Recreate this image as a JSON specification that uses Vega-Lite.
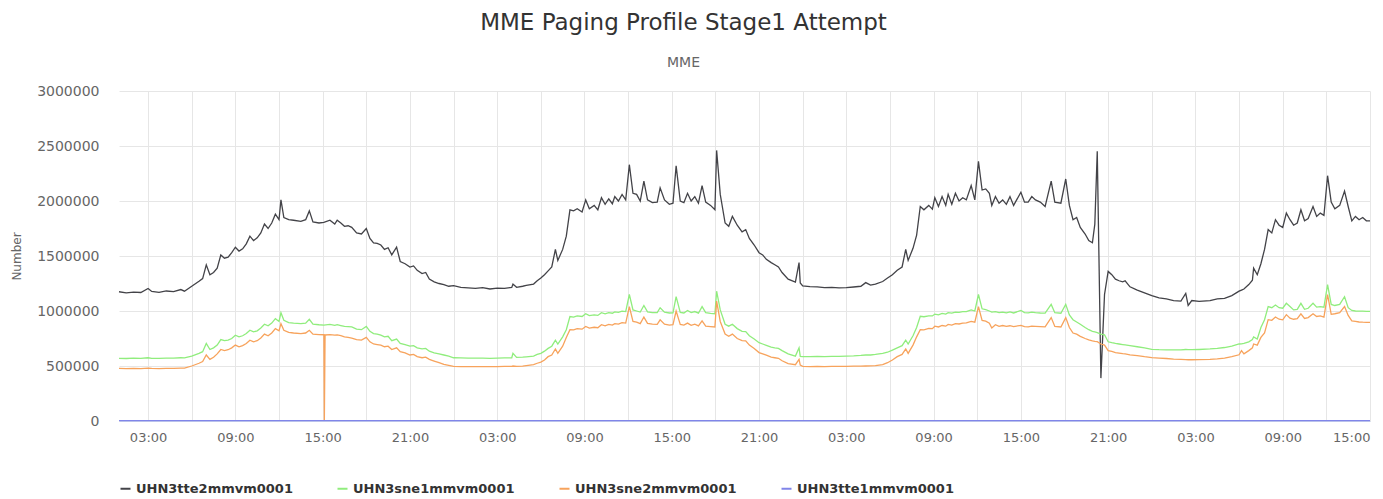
{
  "$schema": "https://vega.github.io/schema/vega-lite/v6.json",
  "width": 1383,
  "height": 499,
  "autosize": {"type": "fit", "contains": "padding"},
  "padding": {"left": 10, "top": 12, "right": 10, "bottom": 3},
  "background": "white",
  "config": {"view": {"stroke": null}, "font": "DejaVu Sans"},
  "title": {
    "text": "MME Paging Profile Stage1 Attempt",
    "subtitle": "MME",
    "anchor": "middle",
    "dx": -61,
    "offset": 14,
    "fontSize": 23,
    "fontWeight": "normal",
    "color": "#333333",
    "subtitleFontSize": 14,
    "subtitleColor": "#666666",
    "subtitlePadding": 21
  },
  "data": {"values": [
    {"t":"2024-01-08T01:00","UHN3tte2mmvm0001":1175000,"UHN3sne1mmvm0001":570000,"UHN3sne2mmvm0001":478000,"UHN3tte1mmvm0001":3000},
    {"t":"2024-01-08T01:30","UHN3tte2mmvm0001":1165000,"UHN3sne1mmvm0001":568000,"UHN3sne2mmvm0001":476000},
    {"t":"2024-01-08T02:00","UHN3tte2mmvm0001":1172000,"UHN3sne1mmvm0001":571000,"UHN3sne2mmvm0001":479000},
    {"t":"2024-01-08T02:30","UHN3tte2mmvm0001":1168000,"UHN3sne1mmvm0001":569000,"UHN3sne2mmvm0001":477000},
    {"t":"2024-01-08T03:00","UHN3tte2mmvm0001":1205000,"UHN3sne1mmvm0001":575000,"UHN3sne2mmvm0001":480000},
    {"t":"2024-01-08T03:15","UHN3tte2mmvm0001":1178000,"UHN3sne1mmvm0001":570000,"UHN3sne2mmvm0001":478000},
    {"t":"2024-01-08T03:45","UHN3tte2mmvm0001":1170000,"UHN3sne1mmvm0001":569000,"UHN3sne2mmvm0001":476000},
    {"t":"2024-01-08T04:15","UHN3tte2mmvm0001":1182000,"UHN3sne1mmvm0001":572000,"UHN3sne2mmvm0001":478000},
    {"t":"2024-01-08T04:45","UHN3tte2mmvm0001":1176000,"UHN3sne1mmvm0001":571000,"UHN3sne2mmvm0001":479000},
    {"t":"2024-01-08T05:15","UHN3tte2mmvm0001":1195000,"UHN3sne1mmvm0001":575000,"UHN3sne2mmvm0001":481000},
    {"t":"2024-01-08T05:30","UHN3tte2mmvm0001":1180000,"UHN3sne1mmvm0001":574000,"UHN3sne2mmvm0001":480000},
    {"t":"2024-01-08T06:00","UHN3tte2mmvm0001":1225000,"UHN3sne1mmvm0001":590000,"UHN3sne2mmvm0001":500000,"UHN3tte1mmvm0001":3000},
    {"t":"2024-01-08T06:30","UHN3tte2mmvm0001":1270000,"UHN3sne1mmvm0001":615000,"UHN3sne2mmvm0001":525000},
    {"t":"2024-01-08T06:45","UHN3tte2mmvm0001":1295000,"UHN3sne1mmvm0001":630000,"UHN3sne2mmvm0001":540000},
    {"t":"2024-01-08T07:00","UHN3tte2mmvm0001":1420000,"UHN3sne1mmvm0001":705000,"UHN3sne2mmvm0001":600000},
    {"t":"2024-01-08T07:15","UHN3tte2mmvm0001":1330000,"UHN3sne1mmvm0001":650000,"UHN3sne2mmvm0001":560000},
    {"t":"2024-01-08T07:30","UHN3tte2mmvm0001":1350000,"UHN3sne1mmvm0001":665000,"UHN3sne2mmvm0001":580000},
    {"t":"2024-01-08T07:45","UHN3tte2mmvm0001":1390000,"UHN3sne1mmvm0001":690000,"UHN3sne2mmvm0001":610000},
    {"t":"2024-01-08T08:00","UHN3tte2mmvm0001":1510000,"UHN3sne1mmvm0001":740000,"UHN3sne2mmvm0001":650000},
    {"t":"2024-01-08T08:15","UHN3tte2mmvm0001":1480000,"UHN3sne1mmvm0001":730000,"UHN3sne2mmvm0001":640000},
    {"t":"2024-01-08T08:30","UHN3tte2mmvm0001":1490000,"UHN3sne1mmvm0001":735000,"UHN3sne2mmvm0001":648000},
    {"t":"2024-01-08T08:45","UHN3tte2mmvm0001":1530000,"UHN3sne1mmvm0001":750000,"UHN3sne2mmvm0001":665000},
    {"t":"2024-01-08T09:00","UHN3tte2mmvm0001":1580000,"UHN3sne1mmvm0001":780000,"UHN3sne2mmvm0001":690000},
    {"t":"2024-01-08T09:15","UHN3tte2mmvm0001":1545000,"UHN3sne1mmvm0001":765000,"UHN3sne2mmvm0001":675000},
    {"t":"2024-01-08T09:30","UHN3tte2mmvm0001":1565000,"UHN3sne1mmvm0001":775000,"UHN3sne2mmvm0001":685000},
    {"t":"2024-01-08T09:45","UHN3tte2mmvm0001":1610000,"UHN3sne1mmvm0001":795000,"UHN3sne2mmvm0001":705000},
    {"t":"2024-01-08T10:00","UHN3tte2mmvm0001":1680000,"UHN3sne1mmvm0001":825000,"UHN3sne2mmvm0001":735000},
    {"t":"2024-01-08T10:15","UHN3tte2mmvm0001":1640000,"UHN3sne1mmvm0001":810000,"UHN3sne2mmvm0001":720000},
    {"t":"2024-01-08T10:30","UHN3tte2mmvm0001":1665000,"UHN3sne1mmvm0001":820000,"UHN3sne2mmvm0001":730000},
    {"t":"2024-01-08T10:45","UHN3tte2mmvm0001":1710000,"UHN3sne1mmvm0001":845000,"UHN3sne2mmvm0001":755000},
    {"t":"2024-01-08T11:00","UHN3tte2mmvm0001":1790000,"UHN3sne1mmvm0001":880000,"UHN3sne2mmvm0001":790000},
    {"t":"2024-01-08T11:15","UHN3tte2mmvm0001":1750000,"UHN3sne1mmvm0001":865000,"UHN3sne2mmvm0001":775000},
    {"t":"2024-01-08T11:30","UHN3tte2mmvm0001":1800000,"UHN3sne1mmvm0001":890000,"UHN3sne2mmvm0001":800000},
    {"t":"2024-01-08T11:45","UHN3tte2mmvm0001":1880000,"UHN3sne1mmvm0001":930000,"UHN3sne2mmvm0001":840000},
    {"t":"2024-01-08T12:00","UHN3tte2mmvm0001":1830000,"UHN3sne1mmvm0001":905000,"UHN3sne2mmvm0001":820000},
    {"t":"2024-01-08T12:08","UHN3tte2mmvm0001":2010000,"UHN3sne1mmvm0001":985000,"UHN3sne2mmvm0001":885000},
    {"t":"2024-01-08T12:20","UHN3tte2mmvm0001":1850000,"UHN3sne1mmvm0001":915000,"UHN3sne2mmvm0001":825000},
    {"t":"2024-01-08T12:40","UHN3tte2mmvm0001":1830000,"UHN3sne1mmvm0001":895000,"UHN3sne2mmvm0001":805000},
    {"t":"2024-01-08T13:00","UHN3tte2mmvm0001":1825000,"UHN3sne1mmvm0001":890000,"UHN3sne2mmvm0001":800000},
    {"t":"2024-01-08T13:30","UHN3tte2mmvm0001":1815000,"UHN3sne1mmvm0001":885000,"UHN3sne2mmvm0001":795000},
    {"t":"2024-01-08T13:50","UHN3tte2mmvm0001":1830000,"UHN3sne1mmvm0001":890000,"UHN3sne2mmvm0001":800000},
    {"t":"2024-01-08T14:05","UHN3tte2mmvm0001":1910000,"UHN3sne1mmvm0001":925000,"UHN3sne2mmvm0001":825000},
    {"t":"2024-01-08T14:20","UHN3tte2mmvm0001":1810000,"UHN3sne1mmvm0001":880000,"UHN3sne2mmvm0001":790000},
    {"t":"2024-01-08T14:45","UHN3tte2mmvm0001":1800000,"UHN3sne1mmvm0001":875000,"UHN3sne2mmvm0001":785000},
    {"t":"2024-01-08T15:05","UHN3tte2mmvm0001":1805000,"UHN3sne1mmvm0001":872000,"UHN3sne2mmvm0001":784000},
    {"t":"2024-01-08T15:07","UHN3sne2mmvm0001":0},
    {"t":"2024-01-08T15:10","UHN3sne2mmvm0001":782000},
    {"t":"2024-01-08T15:30","UHN3tte2mmvm0001":1825000,"UHN3sne1mmvm0001":878000,"UHN3sne2mmvm0001":785000},
    {"t":"2024-01-08T15:50","UHN3tte2mmvm0001":1790000,"UHN3sne1mmvm0001":870000,"UHN3sne2mmvm0001":780000},
    {"t":"2024-01-08T16:00","UHN3tte2mmvm0001":1825000,"UHN3sne1mmvm0001":876000,"UHN3sne2mmvm0001":782000},
    {"t":"2024-01-08T16:15","UHN3tte2mmvm0001":1800000,"UHN3sne1mmvm0001":868000,"UHN3sne2mmvm0001":776000},
    {"t":"2024-01-08T16:30","UHN3tte2mmvm0001":1770000,"UHN3sne1mmvm0001":860000,"UHN3sne2mmvm0001":765000},
    {"t":"2024-01-08T16:45","UHN3tte2mmvm0001":1775000,"UHN3sne1mmvm0001":858000,"UHN3sne2mmvm0001":760000},
    {"t":"2024-01-08T17:00","UHN3tte2mmvm0001":1760000,"UHN3sne1mmvm0001":855000,"UHN3sne2mmvm0001":754000},
    {"t":"2024-01-08T17:20","UHN3tte2mmvm0001":1710000,"UHN3sne1mmvm0001":835000,"UHN3sne2mmvm0001":740000},
    {"t":"2024-01-08T17:40","UHN3tte2mmvm0001":1700000,"UHN3sne1mmvm0001":830000,"UHN3sne2mmvm0001":735000},
    {"t":"2024-01-08T18:00","UHN3tte2mmvm0001":1750000,"UHN3sne1mmvm0001":860000,"UHN3sne2mmvm0001":760000},
    {"t":"2024-01-08T18:15","UHN3tte2mmvm0001":1660000,"UHN3sne1mmvm0001":815000,"UHN3sne2mmvm0001":720000},
    {"t":"2024-01-08T18:30","UHN3tte2mmvm0001":1620000,"UHN3sne1mmvm0001":795000,"UHN3sne2mmvm0001":700000},
    {"t":"2024-01-08T18:45","UHN3tte2mmvm0001":1615000,"UHN3sne1mmvm0001":790000,"UHN3sne2mmvm0001":695000},
    {"t":"2024-01-08T19:00","UHN3tte2mmvm0001":1600000,"UHN3sne1mmvm0001":780000,"UHN3sne2mmvm0001":690000},
    {"t":"2024-01-08T19:15","UHN3tte2mmvm0001":1560000,"UHN3sne1mmvm0001":765000,"UHN3sne2mmvm0001":675000},
    {"t":"2024-01-08T19:30","UHN3tte2mmvm0001":1575000,"UHN3sne1mmvm0001":770000,"UHN3sne2mmvm0001":680000},
    {"t":"2024-01-08T19:45","UHN3tte2mmvm0001":1510000,"UHN3sne1mmvm0001":730000,"UHN3sne2mmvm0001":650000},
    {"t":"2024-01-08T20:05","UHN3tte2mmvm0001":1580000,"UHN3sne1mmvm0001":745000,"UHN3sne2mmvm0001":665000},
    {"t":"2024-01-08T20:20","UHN3tte2mmvm0001":1450000,"UHN3sne1mmvm0001":705000,"UHN3sne2mmvm0001":630000},
    {"t":"2024-01-08T20:40","UHN3tte2mmvm0001":1430000,"UHN3sne1mmvm0001":695000,"UHN3sne2mmvm0001":620000},
    {"t":"2024-01-08T21:00","UHN3tte2mmvm0001":1400000,"UHN3sne1mmvm0001":680000,"UHN3sne2mmvm0001":600000},
    {"t":"2024-01-08T21:15","UHN3tte2mmvm0001":1410000,"UHN3sne1mmvm0001":685000,"UHN3sne2mmvm0001":605000},
    {"t":"2024-01-08T21:30","UHN3tte2mmvm0001":1370000,"UHN3sne1mmvm0001":665000,"UHN3sne2mmvm0001":585000},
    {"t":"2024-01-08T21:50","UHN3tte2mmvm0001":1340000,"UHN3sne1mmvm0001":655000,"UHN3sne2mmvm0001":575000},
    {"t":"2024-01-08T22:05","UHN3tte2mmvm0001":1350000,"UHN3sne1mmvm0001":660000,"UHN3sne2mmvm0001":580000},
    {"t":"2024-01-08T22:20","UHN3tte2mmvm0001":1290000,"UHN3sne1mmvm0001":635000,"UHN3sne2mmvm0001":560000},
    {"t":"2024-01-08T22:40","UHN3tte2mmvm0001":1265000,"UHN3sne1mmvm0001":620000,"UHN3sne2mmvm0001":545000},
    {"t":"2024-01-08T23:00","UHN3tte2mmvm0001":1250000,"UHN3sne1mmvm0001":610000,"UHN3sne2mmvm0001":530000},
    {"t":"2024-01-08T23:20","UHN3tte2mmvm0001":1240000,"UHN3sne1mmvm0001":600000,"UHN3sne2mmvm0001":515000},
    {"t":"2024-01-08T23:40","UHN3tte2mmvm0001":1225000,"UHN3sne1mmvm0001":590000,"UHN3sne2mmvm0001":505000},
    {"t":"2024-01-09T00:00","UHN3tte2mmvm0001":1230000,"UHN3sne1mmvm0001":575000,"UHN3sne2mmvm0001":496000,"UHN3tte1mmvm0001":3000},
    {"t":"2024-01-09T00:30","UHN3tte2mmvm0001":1215000,"UHN3sne1mmvm0001":573000,"UHN3sne2mmvm0001":495000},
    {"t":"2024-01-09T01:00","UHN3tte2mmvm0001":1210000,"UHN3sne1mmvm0001":572000,"UHN3sne2mmvm0001":494000},
    {"t":"2024-01-09T01:30","UHN3tte2mmvm0001":1205000,"UHN3sne1mmvm0001":571000,"UHN3sne2mmvm0001":494000},
    {"t":"2024-01-09T02:00","UHN3tte2mmvm0001":1212000,"UHN3sne1mmvm0001":572000,"UHN3sne2mmvm0001":495000},
    {"t":"2024-01-09T02:30","UHN3tte2mmvm0001":1200000,"UHN3sne1mmvm0001":570000,"UHN3sne2mmvm0001":494000},
    {"t":"2024-01-09T03:00","UHN3tte2mmvm0001":1208000,"UHN3sne1mmvm0001":572000,"UHN3sne2mmvm0001":495000},
    {"t":"2024-01-09T03:30","UHN3tte2mmvm0001":1205000,"UHN3sne1mmvm0001":573000,"UHN3sne2mmvm0001":496000},
    {"t":"2024-01-09T04:00","UHN3tte2mmvm0001":1215000,"UHN3sne1mmvm0001":575000,"UHN3sne2mmvm0001":497000},
    {"t":"2024-01-09T04:05","UHN3tte2mmvm0001":1245000,"UHN3sne1mmvm0001":615000,"UHN3sne2mmvm0001":500000},
    {"t":"2024-01-09T04:20","UHN3tte2mmvm0001":1215000,"UHN3sne1mmvm0001":578000,"UHN3sne2mmvm0001":497000},
    {"t":"2024-01-09T04:45","UHN3tte2mmvm0001":1225000,"UHN3sne1mmvm0001":580000,"UHN3sne2mmvm0001":498000},
    {"t":"2024-01-09T05:00","UHN3tte2mmvm0001":1232000,"UHN3sne1mmvm0001":583000,"UHN3sne2mmvm0001":503000},
    {"t":"2024-01-09T05:30","UHN3tte2mmvm0001":1245000,"UHN3sne1mmvm0001":590000,"UHN3sne2mmvm0001":512000},
    {"t":"2024-01-09T05:45","UHN3tte2mmvm0001":1275000,"UHN3sne1mmvm0001":605000,"UHN3sne2mmvm0001":525000},
    {"t":"2024-01-09T06:00","UHN3tte2mmvm0001":1300000,"UHN3sne1mmvm0001":615000,"UHN3sne2mmvm0001":535000},
    {"t":"2024-01-09T06:15","UHN3tte2mmvm0001":1330000,"UHN3sne1mmvm0001":635000,"UHN3sne2mmvm0001":555000},
    {"t":"2024-01-09T06:30","UHN3tte2mmvm0001":1365000,"UHN3sne1mmvm0001":660000,"UHN3sne2mmvm0001":585000},
    {"t":"2024-01-09T06:45","UHN3tte2mmvm0001":1400000,"UHN3sne1mmvm0001":680000,"UHN3sne2mmvm0001":600000},
    {"t":"2024-01-09T07:00","UHN3tte2mmvm0001":1560000,"UHN3sne1mmvm0001":735000,"UHN3sne2mmvm0001":655000},
    {"t":"2024-01-09T07:10","UHN3tte2mmvm0001":1460000,"UHN3sne1mmvm0001":700000,"UHN3sne2mmvm0001":615000},
    {"t":"2024-01-09T07:30","UHN3tte2mmvm0001":1560000,"UHN3sne1mmvm0001":765000,"UHN3sne2mmvm0001":680000},
    {"t":"2024-01-09T07:45","UHN3tte2mmvm0001":1680000,"UHN3sne1mmvm0001":830000,"UHN3sne2mmvm0001":760000},
    {"t":"2024-01-09T08:00","UHN3tte2mmvm0001":1920000,"UHN3sne1mmvm0001":950000,"UHN3sne2mmvm0001":830000},
    {"t":"2024-01-09T08:15","UHN3tte2mmvm0001":1910000,"UHN3sne1mmvm0001":945000,"UHN3sne2mmvm0001":828000},
    {"t":"2024-01-09T08:30","UHN3tte2mmvm0001":1930000,"UHN3sne1mmvm0001":955000,"UHN3sne2mmvm0001":840000},
    {"t":"2024-01-09T08:50","UHN3tte2mmvm0001":1900000,"UHN3sne1mmvm0001":950000,"UHN3sne2mmvm0001":835000},
    {"t":"2024-01-09T09:05","UHN3tte2mmvm0001":2010000,"UHN3sne1mmvm0001":975000,"UHN3sne2mmvm0001":860000},
    {"t":"2024-01-09T09:20","UHN3tte2mmvm0001":1930000,"UHN3sne1mmvm0001":958000,"UHN3sne2mmvm0001":845000},
    {"t":"2024-01-09T09:40","UHN3tte2mmvm0001":1960000,"UHN3sne1mmvm0001":965000,"UHN3sne2mmvm0001":852000},
    {"t":"2024-01-09T09:55","UHN3tte2mmvm0001":1920000,"UHN3sne1mmvm0001":960000,"UHN3sne2mmvm0001":848000},
    {"t":"2024-01-09T10:10","UHN3tte2mmvm0001":2030000,"UHN3sne1mmvm0001":985000,"UHN3sne2mmvm0001":875000},
    {"t":"2024-01-09T10:25","UHN3tte2mmvm0001":1970000,"UHN3sne1mmvm0001":975000,"UHN3sne2mmvm0001":865000},
    {"t":"2024-01-09T10:40","UHN3tte2mmvm0001":2020000,"UHN3sne1mmvm0001":985000,"UHN3sne2mmvm0001":878000},
    {"t":"2024-01-09T10:55","UHN3tte2mmvm0001":1975000,"UHN3sne1mmvm0001":980000,"UHN3sne2mmvm0001":872000},
    {"t":"2024-01-09T11:05","UHN3tte2mmvm0001":2040000,"UHN3sne1mmvm0001":992000,"UHN3sne2mmvm0001":885000},
    {"t":"2024-01-09T11:20","UHN3tte2mmvm0001":2000000,"UHN3sne1mmvm0001":988000,"UHN3sne2mmvm0001":880000},
    {"t":"2024-01-09T11:35","UHN3tte2mmvm0001":2060000,"UHN3sne1mmvm0001":998000,"UHN3sne2mmvm0001":895000},
    {"t":"2024-01-09T11:50","UHN3tte2mmvm0001":2010000,"UHN3sne1mmvm0001":995000,"UHN3sne2mmvm0001":890000},
    {"t":"2024-01-09T12:05","UHN3tte2mmvm0001":2330000,"UHN3sne1mmvm0001":1150000,"UHN3sne2mmvm0001":1040000},
    {"t":"2024-01-09T12:20","UHN3tte2mmvm0001":2070000,"UHN3sne1mmvm0001":1010000,"UHN3sne2mmvm0001":905000},
    {"t":"2024-01-09T12:35","UHN3tte2mmvm0001":2060000,"UHN3sne1mmvm0001":1000000,"UHN3sne2mmvm0001":898000},
    {"t":"2024-01-09T12:50","UHN3tte2mmvm0001":2000000,"UHN3sne1mmvm0001":990000,"UHN3sne2mmvm0001":885000},
    {"t":"2024-01-09T13:05","UHN3tte2mmvm0001":2180000,"UHN3sne1mmvm0001":1050000,"UHN3sne2mmvm0001":945000},
    {"t":"2024-01-09T13:20","UHN3tte2mmvm0001":2010000,"UHN3sne1mmvm0001":992000,"UHN3sne2mmvm0001":888000},
    {"t":"2024-01-09T13:40","UHN3tte2mmvm0001":1985000,"UHN3sne1mmvm0001":985000,"UHN3sne2mmvm0001":880000},
    {"t":"2024-01-09T14:00","UHN3tte2mmvm0001":1990000,"UHN3sne1mmvm0001":985000,"UHN3sne2mmvm0001":878000},
    {"t":"2024-01-09T14:12","UHN3tte2mmvm0001":2120000,"UHN3sne1mmvm0001":1030000,"UHN3sne2mmvm0001":920000},
    {"t":"2024-01-09T14:30","UHN3tte2mmvm0001":2010000,"UHN3sne1mmvm0001":990000,"UHN3sne2mmvm0001":880000},
    {"t":"2024-01-09T14:50","UHN3tte2mmvm0001":1970000,"UHN3sne1mmvm0001":982000,"UHN3sne2mmvm0001":872000},
    {"t":"2024-01-09T15:05","UHN3tte2mmvm0001":1980000,"UHN3sne1mmvm0001":983000,"UHN3sne2mmvm0001":875000},
    {"t":"2024-01-09T15:18","UHN3tte2mmvm0001":2320000,"UHN3sne1mmvm0001":1130000,"UHN3sne2mmvm0001":1000000},
    {"t":"2024-01-09T15:35","UHN3tte2mmvm0001":2000000,"UHN3sne1mmvm0001":988000,"UHN3sne2mmvm0001":878000},
    {"t":"2024-01-09T15:50","UHN3tte2mmvm0001":1985000,"UHN3sne1mmvm0001":982000,"UHN3sne2mmvm0001":872000},
    {"t":"2024-01-09T16:05","UHN3tte2mmvm0001":2070000,"UHN3sne1mmvm0001":1005000,"UHN3sne2mmvm0001":890000},
    {"t":"2024-01-09T16:20","UHN3tte2mmvm0001":2000000,"UHN3sne1mmvm0001":985000,"UHN3sne2mmvm0001":870000},
    {"t":"2024-01-09T16:35","UHN3tte2mmvm0001":2040000,"UHN3sne1mmvm0001":995000,"UHN3sne2mmvm0001":880000},
    {"t":"2024-01-09T16:50","UHN3tte2mmvm0001":1980000,"UHN3sne1mmvm0001":980000,"UHN3sne2mmvm0001":865000},
    {"t":"2024-01-09T17:05","UHN3tte2mmvm0001":2140000,"UHN3sne1mmvm0001":1040000,"UHN3sne2mmvm0001":910000},
    {"t":"2024-01-09T17:20","UHN3tte2mmvm0001":1990000,"UHN3sne1mmvm0001":985000,"UHN3sne2mmvm0001":862000},
    {"t":"2024-01-09T17:40","UHN3tte2mmvm0001":1960000,"UHN3sne1mmvm0001":978000,"UHN3sne2mmvm0001":858000},
    {"t":"2024-01-09T17:58","UHN3tte2mmvm0001":1920000,"UHN3sne1mmvm0001":975000,"UHN3sne2mmvm0001":855000},
    {"t":"2024-01-09T18:05","UHN3tte2mmvm0001":2460000,"UHN3sne1mmvm0001":1180000,"UHN3sne2mmvm0001":1090000},
    {"t":"2024-01-09T18:20","UHN3tte2mmvm0001":2060000,"UHN3sne1mmvm0001":1010000,"UHN3sne2mmvm0001":905000},
    {"t":"2024-01-09T18:40","UHN3tte2mmvm0001":1800000,"UHN3sne1mmvm0001":880000,"UHN3sne2mmvm0001":790000},
    {"t":"2024-01-09T18:55","UHN3tte2mmvm0001":1770000,"UHN3sne1mmvm0001":862000,"UHN3sne2mmvm0001":770000},
    {"t":"2024-01-09T19:10","UHN3tte2mmvm0001":1860000,"UHN3sne1mmvm0001":880000,"UHN3sne2mmvm0001":790000},
    {"t":"2024-01-09T19:30","UHN3tte2mmvm0001":1780000,"UHN3sne1mmvm0001":840000,"UHN3sne2mmvm0001":750000},
    {"t":"2024-01-09T19:50","UHN3tte2mmvm0001":1720000,"UHN3sne1mmvm0001":815000,"UHN3sne2mmvm0001":730000},
    {"t":"2024-01-09T20:05","UHN3tte2mmvm0001":1740000,"UHN3sne1mmvm0001":812000,"UHN3sne2mmvm0001":728000},
    {"t":"2024-01-09T20:20","UHN3tte2mmvm0001":1660000,"UHN3sne1mmvm0001":775000,"UHN3sne2mmvm0001":690000},
    {"t":"2024-01-09T20:40","UHN3tte2mmvm0001":1600000,"UHN3sne1mmvm0001":745000,"UHN3sne2mmvm0001":660000},
    {"t":"2024-01-09T21:00","UHN3tte2mmvm0001":1530000,"UHN3sne1mmvm0001":712000,"UHN3sne2mmvm0001":622000},
    {"t":"2024-01-09T21:15","UHN3tte2mmvm0001":1510000,"UHN3sne1mmvm0001":700000,"UHN3sne2mmvm0001":610000},
    {"t":"2024-01-09T21:30","UHN3tte2mmvm0001":1470000,"UHN3sne1mmvm0001":688000,"UHN3sne2mmvm0001":598000},
    {"t":"2024-01-09T21:50","UHN3tte2mmvm0001":1440000,"UHN3sne1mmvm0001":672000,"UHN3sne2mmvm0001":580000},
    {"t":"2024-01-09T22:05","UHN3tte2mmvm0001":1420000,"UHN3sne1mmvm0001":665000,"UHN3sne2mmvm0001":575000},
    {"t":"2024-01-09T22:20","UHN3tte2mmvm0001":1400000,"UHN3sne1mmvm0001":660000,"UHN3sne2mmvm0001":570000},
    {"t":"2024-01-09T22:35","UHN3tte2mmvm0001":1350000,"UHN3sne1mmvm0001":640000,"UHN3sne2mmvm0001":548000},
    {"t":"2024-01-09T23:00","UHN3tte2mmvm0001":1290000,"UHN3sne1mmvm0001":610000,"UHN3sne2mmvm0001":522000},
    {"t":"2024-01-09T23:30","UHN3tte2mmvm0001":1262000,"UHN3sne1mmvm0001":590000,"UHN3sne2mmvm0001":512000},
    {"t":"2024-01-09T23:45","UHN3tte2mmvm0001":1440000,"UHN3sne1mmvm0001":665000,"UHN3sne2mmvm0001":560000},
    {"t":"2024-01-09T23:50","UHN3tte2mmvm0001":1255000,"UHN3sne1mmvm0001":588000,"UHN3sne2mmvm0001":508000},
    {"t":"2024-01-10T00:00","UHN3tte2mmvm0001":1228000,"UHN3sne1mmvm0001":586000,"UHN3sne2mmvm0001":496000,"UHN3tte1mmvm0001":3000},
    {"t":"2024-01-10T00:30","UHN3tte2mmvm0001":1222000,"UHN3sne1mmvm0001":586000,"UHN3sne2mmvm0001":495000},
    {"t":"2024-01-10T01:00","UHN3tte2mmvm0001":1220000,"UHN3sne1mmvm0001":587000,"UHN3sne2mmvm0001":496000},
    {"t":"2024-01-10T01:30","UHN3tte2mmvm0001":1212000,"UHN3sne1mmvm0001":586000,"UHN3sne2mmvm0001":495000},
    {"t":"2024-01-10T02:00","UHN3tte2mmvm0001":1215000,"UHN3sne1mmvm0001":588000,"UHN3sne2mmvm0001":496000},
    {"t":"2024-01-10T02:30","UHN3tte2mmvm0001":1210000,"UHN3sne1mmvm0001":588000,"UHN3sne2mmvm0001":497000},
    {"t":"2024-01-10T03:00","UHN3tte2mmvm0001":1212000,"UHN3sne1mmvm0001":590000,"UHN3sne2mmvm0001":497000},
    {"t":"2024-01-10T03:30","UHN3tte2mmvm0001":1218000,"UHN3sne1mmvm0001":592000,"UHN3sne2mmvm0001":498000},
    {"t":"2024-01-10T04:00","UHN3tte2mmvm0001":1225000,"UHN3sne1mmvm0001":596000,"UHN3sne2mmvm0001":499000},
    {"t":"2024-01-10T04:20","UHN3tte2mmvm0001":1258000,"UHN3sne1mmvm0001":600000,"UHN3sne2mmvm0001":500000},
    {"t":"2024-01-10T04:40","UHN3tte2mmvm0001":1235000,"UHN3sne1mmvm0001":600000,"UHN3sne2mmvm0001":501000},
    {"t":"2024-01-10T05:00","UHN3tte2mmvm0001":1245000,"UHN3sne1mmvm0001":605000,"UHN3sne2mmvm0001":503000},
    {"t":"2024-01-10T05:30","UHN3tte2mmvm0001":1268000,"UHN3sne1mmvm0001":615000,"UHN3sne2mmvm0001":512000},
    {"t":"2024-01-10T05:50","UHN3tte2mmvm0001":1300000,"UHN3sne1mmvm0001":625000,"UHN3sne2mmvm0001":530000},
    {"t":"2024-01-10T06:10","UHN3tte2mmvm0001":1330000,"UHN3sne1mmvm0001":645000,"UHN3sne2mmvm0001":555000},
    {"t":"2024-01-10T06:30","UHN3tte2mmvm0001":1370000,"UHN3sne1mmvm0001":665000,"UHN3sne2mmvm0001":585000},
    {"t":"2024-01-10T06:50","UHN3tte2mmvm0001":1400000,"UHN3sne1mmvm0001":685000,"UHN3sne2mmvm0001":605000},
    {"t":"2024-01-10T07:05","UHN3tte2mmvm0001":1560000,"UHN3sne1mmvm0001":735000,"UHN3sne2mmvm0001":655000},
    {"t":"2024-01-10T07:15","UHN3tte2mmvm0001":1460000,"UHN3sne1mmvm0001":700000,"UHN3sne2mmvm0001":615000},
    {"t":"2024-01-10T07:35","UHN3tte2mmvm0001":1570000,"UHN3sne1mmvm0001":775000,"UHN3sne2mmvm0001":690000},
    {"t":"2024-01-10T07:50","UHN3tte2mmvm0001":1690000,"UHN3sne1mmvm0001":850000,"UHN3sne2mmvm0001":765000},
    {"t":"2024-01-10T08:05","UHN3tte2mmvm0001":1950000,"UHN3sne1mmvm0001":952000,"UHN3sne2mmvm0001":830000},
    {"t":"2024-01-10T08:20","UHN3tte2mmvm0001":1920000,"UHN3sne1mmvm0001":948000,"UHN3sne2mmvm0001":828000},
    {"t":"2024-01-10T08:40","UHN3tte2mmvm0001":1960000,"UHN3sne1mmvm0001":956000,"UHN3sne2mmvm0001":842000},
    {"t":"2024-01-10T08:55","UHN3tte2mmvm0001":1925000,"UHN3sne1mmvm0001":955000,"UHN3sne2mmvm0001":840000},
    {"t":"2024-01-10T09:05","UHN3tte2mmvm0001":2030000,"UHN3sne1mmvm0001":972000,"UHN3sne2mmvm0001":862000},
    {"t":"2024-01-10T09:20","UHN3tte2mmvm0001":1950000,"UHN3sne1mmvm0001":965000,"UHN3sne2mmvm0001":855000},
    {"t":"2024-01-10T09:35","UHN3tte2mmvm0001":2040000,"UHN3sne1mmvm0001":978000,"UHN3sne2mmvm0001":868000},
    {"t":"2024-01-10T09:50","UHN3tte2mmvm0001":1960000,"UHN3sne1mmvm0001":972000,"UHN3sne2mmvm0001":862000},
    {"t":"2024-01-10T10:00","UHN3tte2mmvm0001":2060000,"UHN3sne1mmvm0001":985000,"UHN3sne2mmvm0001":878000},
    {"t":"2024-01-10T10:15","UHN3tte2mmvm0001":1970000,"UHN3sne1mmvm0001":980000,"UHN3sne2mmvm0001":872000},
    {"t":"2024-01-10T10:30","UHN3tte2mmvm0001":2070000,"UHN3sne1mmvm0001":990000,"UHN3sne2mmvm0001":885000},
    {"t":"2024-01-10T10:45","UHN3tte2mmvm0001":2000000,"UHN3sne1mmvm0001":988000,"UHN3sne2mmvm0001":882000},
    {"t":"2024-01-10T11:00","UHN3tte2mmvm0001":2030000,"UHN3sne1mmvm0001":995000,"UHN3sne2mmvm0001":890000},
    {"t":"2024-01-10T11:15","UHN3tte2mmvm0001":2010000,"UHN3sne1mmvm0001":995000,"UHN3sne2mmvm0001":892000},
    {"t":"2024-01-10T11:35","UHN3tte2mmvm0001":2140000,"UHN3sne1mmvm0001":1010000,"UHN3sne2mmvm0001":905000},
    {"t":"2024-01-10T11:50","UHN3tte2mmvm0001":2010000,"UHN3sne1mmvm0001":1000000,"UHN3sne2mmvm0001":898000},
    {"t":"2024-01-10T12:05","UHN3tte2mmvm0001":2360000,"UHN3sne1mmvm0001":1150000,"UHN3sne2mmvm0001":1040000},
    {"t":"2024-01-10T12:20","UHN3tte2mmvm0001":2100000,"UHN3sne1mmvm0001":1020000,"UHN3sne2mmvm0001":915000},
    {"t":"2024-01-10T12:35","UHN3tte2mmvm0001":2110000,"UHN3sne1mmvm0001":1012000,"UHN3sne2mmvm0001":908000},
    {"t":"2024-01-10T12:50","UHN3tte2mmvm0001":2070000,"UHN3sne1mmvm0001":1000000,"UHN3sne2mmvm0001":890000},
    {"t":"2024-01-10T13:00","UHN3tte2mmvm0001":1960000,"UHN3sne1mmvm0001":990000,"UHN3sne2mmvm0001":845000},
    {"t":"2024-01-10T13:15","UHN3tte2mmvm0001":2040000,"UHN3sne1mmvm0001":995000,"UHN3sne2mmvm0001":875000},
    {"t":"2024-01-10T13:30","UHN3tte2mmvm0001":1980000,"UHN3sne1mmvm0001":985000,"UHN3sne2mmvm0001":860000},
    {"t":"2024-01-10T13:45","UHN3tte2mmvm0001":2010000,"UHN3sne1mmvm0001":990000,"UHN3sne2mmvm0001":868000},
    {"t":"2024-01-10T14:00","UHN3tte2mmvm0001":1970000,"UHN3sne1mmvm0001":983000,"UHN3sne2mmvm0001":860000},
    {"t":"2024-01-10T14:15","UHN3tte2mmvm0001":2040000,"UHN3sne1mmvm0001":992000,"UHN3sne2mmvm0001":866000},
    {"t":"2024-01-10T14:30","UHN3tte2mmvm0001":1960000,"UHN3sne1mmvm0001":982000,"UHN3sne2mmvm0001":858000},
    {"t":"2024-01-10T15:00","UHN3tte2mmvm0001":2080000,"UHN3sne1mmvm0001":1005000,"UHN3sne2mmvm0001":870000},
    {"t":"2024-01-10T15:15","UHN3tte2mmvm0001":1990000,"UHN3sne1mmvm0001":985000,"UHN3sne2mmvm0001":858000},
    {"t":"2024-01-10T15:30","UHN3tte2mmvm0001":1990000,"UHN3sne1mmvm0001":983000,"UHN3sne2mmvm0001":856000},
    {"t":"2024-01-10T15:45","UHN3tte2mmvm0001":2040000,"UHN3sne1mmvm0001":990000,"UHN3sne2mmvm0001":862000},
    {"t":"2024-01-10T16:00","UHN3tte2mmvm0001":2010000,"UHN3sne1mmvm0001":985000,"UHN3sne2mmvm0001":860000},
    {"t":"2024-01-10T16:20","UHN3tte2mmvm0001":1990000,"UHN3sne1mmvm0001":982000,"UHN3sne2mmvm0001":858000},
    {"t":"2024-01-10T16:40","UHN3tte2mmvm0001":1950000,"UHN3sne1mmvm0001":980000,"UHN3sne2mmvm0001":855000},
    {"t":"2024-01-10T17:05","UHN3tte2mmvm0001":2180000,"UHN3sne1mmvm0001":1060000,"UHN3sne2mmvm0001":940000},
    {"t":"2024-01-10T17:20","UHN3tte2mmvm0001":1990000,"UHN3sne1mmvm0001":985000,"UHN3sne2mmvm0001":860000},
    {"t":"2024-01-10T17:45","UHN3tte2mmvm0001":1980000,"UHN3sne1mmvm0001":980000,"UHN3sne2mmvm0001":855000},
    {"t":"2024-01-10T18:05","UHN3tte2mmvm0001":2200000,"UHN3sne1mmvm0001":1060000,"UHN3sne2mmvm0001":940000},
    {"t":"2024-01-10T18:20","UHN3tte2mmvm0001":1960000,"UHN3sne1mmvm0001":965000,"UHN3sne2mmvm0001":850000},
    {"t":"2024-01-10T18:35","UHN3tte2mmvm0001":1830000,"UHN3sne1mmvm0001":921000,"UHN3sne2mmvm0001":800000},
    {"t":"2024-01-10T18:50","UHN3tte2mmvm0001":1850000,"UHN3sne1mmvm0001":900000,"UHN3sne2mmvm0001":790000},
    {"t":"2024-01-10T19:05","UHN3tte2mmvm0001":1760000,"UHN3sne1mmvm0001":880000,"UHN3sne2mmvm0001":770000},
    {"t":"2024-01-10T19:25","UHN3tte2mmvm0001":1700000,"UHN3sne1mmvm0001":850000,"UHN3sne2mmvm0001":750000},
    {"t":"2024-01-10T19:40","UHN3tte2mmvm0001":1640000,"UHN3sne1mmvm0001":830000,"UHN3sne2mmvm0001":738000},
    {"t":"2024-01-10T19:55","UHN3tte2mmvm0001":1620000,"UHN3sne1mmvm0001":815000,"UHN3sne2mmvm0001":728000},
    {"t":"2024-01-10T20:05","UHN3tte2mmvm0001":1790000,"UHN3sne1mmvm0001":810000,"UHN3sne2mmvm0001":724000},
    {"t":"2024-01-10T20:15","UHN3tte2mmvm0001":2452660,"UHN3sne1mmvm0001":804266,"UHN3sne2mmvm0001":720972},
    {"t":"2024-01-10T20:30","UHN3tte2mmvm0001":390000,"UHN3sne1mmvm0001":790000,"UHN3sne2mmvm0001":700000},
    {"t":"2024-01-10T20:45","UHN3tte2mmvm0001":1150000,"UHN3sne1mmvm0001":784000,"UHN3sne2mmvm0001":690000},
    {"t":"2024-01-10T21:00","UHN3tte2mmvm0001":1360000,"UHN3sne1mmvm0001":720000,"UHN3sne2mmvm0001":640000},
    {"t":"2024-01-10T21:15","UHN3tte2mmvm0001":1330000,"UHN3sne1mmvm0001":712000,"UHN3sne2mmvm0001":632000},
    {"t":"2024-01-10T21:30","UHN3tte2mmvm0001":1290000,"UHN3sne1mmvm0001":705000,"UHN3sne2mmvm0001":622000},
    {"t":"2024-01-10T21:45","UHN3tte2mmvm0001":1275000,"UHN3sne1mmvm0001":700000,"UHN3sne2mmvm0001":618000},
    {"t":"2024-01-10T22:00","UHN3tte2mmvm0001":1265000,"UHN3sne1mmvm0001":695000,"UHN3sne2mmvm0001":612000},
    {"t":"2024-01-10T22:10","UHN3tte2mmvm0001":1275000,"UHN3sne1mmvm0001":692000,"UHN3sne2mmvm0001":610000},
    {"t":"2024-01-10T22:30","UHN3tte2mmvm0001":1220000,"UHN3sne1mmvm0001":685000,"UHN3sne2mmvm0001":602000},
    {"t":"2024-01-10T23:00","UHN3tte2mmvm0001":1190000,"UHN3sne1mmvm0001":675000,"UHN3sne2mmvm0001":595000},
    {"t":"2024-01-10T23:30","UHN3tte2mmvm0001":1165000,"UHN3sne1mmvm0001":665000,"UHN3sne2mmvm0001":585000},
    {"t":"2024-01-11T00:00","UHN3tte2mmvm0001":1140000,"UHN3sne1mmvm0001":652000,"UHN3sne2mmvm0001":577000,"UHN3tte1mmvm0001":3000},
    {"t":"2024-01-11T00:30","UHN3tte2mmvm0001":1120000,"UHN3sne1mmvm0001":648000,"UHN3sne2mmvm0001":572000},
    {"t":"2024-01-11T01:00","UHN3tte2mmvm0001":1110000,"UHN3sne1mmvm0001":647000,"UHN3sne2mmvm0001":568000},
    {"t":"2024-01-11T01:30","UHN3tte2mmvm0001":1095000,"UHN3sne1mmvm0001":646000,"UHN3sne2mmvm0001":563000},
    {"t":"2024-01-11T02:00","UHN3tte2mmvm0001":1090000,"UHN3sne1mmvm0001":647000,"UHN3sne2mmvm0001":560000},
    {"t":"2024-01-11T02:20","UHN3tte2mmvm0001":1160000,"UHN3sne1mmvm0001":650000,"UHN3sne2mmvm0001":558000},
    {"t":"2024-01-11T02:30","UHN3tte2mmvm0001":1050000,"UHN3sne1mmvm0001":648000,"UHN3sne2mmvm0001":557000},
    {"t":"2024-01-11T02:45","UHN3tte2mmvm0001":1095000,"UHN3sne1mmvm0001":648000,"UHN3sne2mmvm0001":557000},
    {"t":"2024-01-11T03:15","UHN3tte2mmvm0001":1088000,"UHN3sne1mmvm0001":650000,"UHN3sne2mmvm0001":558000},
    {"t":"2024-01-11T04:00","UHN3tte2mmvm0001":1095000,"UHN3sne1mmvm0001":655000,"UHN3sne2mmvm0001":560000},
    {"t":"2024-01-11T04:30","UHN3tte2mmvm0001":1110000,"UHN3sne1mmvm0001":660000,"UHN3sne2mmvm0001":565000},
    {"t":"2024-01-11T05:00","UHN3tte2mmvm0001":1115000,"UHN3sne1mmvm0001":668000,"UHN3sne2mmvm0001":572000},
    {"t":"2024-01-11T05:30","UHN3tte2mmvm0001":1140000,"UHN3sne1mmvm0001":680000,"UHN3sne2mmvm0001":585000},
    {"t":"2024-01-11T06:00","UHN3tte2mmvm0001":1180000,"UHN3sne1mmvm0001":700000,"UHN3sne2mmvm0001":602000},
    {"t":"2024-01-11T06:10","UHN3tte2mmvm0001":1190000,"UHN3sne1mmvm0001":702000,"UHN3sne2mmvm0001":640000},
    {"t":"2024-01-11T06:20","UHN3tte2mmvm0001":1200000,"UHN3sne1mmvm0001":705000,"UHN3sne2mmvm0001":610000},
    {"t":"2024-01-11T06:40","UHN3tte2mmvm0001":1240000,"UHN3sne1mmvm0001":720000,"UHN3sne2mmvm0001":640000},
    {"t":"2024-01-11T06:55","UHN3tte2mmvm0001":1280000,"UHN3sne1mmvm0001":740000,"UHN3sne2mmvm0001":665000},
    {"t":"2024-01-11T07:00","UHN3tte2mmvm0001":1390000,"UHN3sne1mmvm0001":765000,"UHN3sne2mmvm0001":700000},
    {"t":"2024-01-11T07:15","UHN3tte2mmvm0001":1330000,"UHN3sne1mmvm0001":745000,"UHN3sne2mmvm0001":690000},
    {"t":"2024-01-11T07:30","UHN3tte2mmvm0001":1430000,"UHN3sne1mmvm0001":850000,"UHN3sne2mmvm0001":760000},
    {"t":"2024-01-11T07:45","UHN3tte2mmvm0001":1560000,"UHN3sne1mmvm0001":921000,"UHN3sne2mmvm0001":800000},
    {"t":"2024-01-11T08:00","UHN3tte2mmvm0001":1740000,"UHN3sne1mmvm0001":1040000,"UHN3sne2mmvm0001":921000},
    {"t":"2024-01-11T08:15","UHN3tte2mmvm0001":1710000,"UHN3sne1mmvm0001":1030000,"UHN3sne2mmvm0001":915000},
    {"t":"2024-01-11T08:30","UHN3tte2mmvm0001":1830000,"UHN3sne1mmvm0001":1055000,"UHN3sne2mmvm0001":945000},
    {"t":"2024-01-11T08:45","UHN3tte2mmvm0001":1780000,"UHN3sne1mmvm0001":1030000,"UHN3sne2mmvm0001":925000},
    {"t":"2024-01-11T09:00","UHN3tte2mmvm0001":1760000,"UHN3sne1mmvm0001":1025000,"UHN3sne2mmvm0001":920000},
    {"t":"2024-01-11T09:15","UHN3tte2mmvm0001":1890000,"UHN3sne1mmvm0001":1070000,"UHN3sne2mmvm0001":967000},
    {"t":"2024-01-11T09:30","UHN3tte2mmvm0001":1830000,"UHN3sne1mmvm0001":1040000,"UHN3sne2mmvm0001":935000},
    {"t":"2024-01-11T09:45","UHN3tte2mmvm0001":1780000,"UHN3sne1mmvm0001":1010000,"UHN3sne2mmvm0001":925000},
    {"t":"2024-01-11T10:00","UHN3tte2mmvm0001":1800000,"UHN3sne1mmvm0001":1015000,"UHN3sne2mmvm0001":930000},
    {"t":"2024-01-11T10:15","UHN3tte2mmvm0001":1920000,"UHN3sne1mmvm0001":1070000,"UHN3sne2mmvm0001":975000},
    {"t":"2024-01-11T10:30","UHN3tte2mmvm0001":1820000,"UHN3sne1mmvm0001":1015000,"UHN3sne2mmvm0001":932000},
    {"t":"2024-01-11T10:45","UHN3tte2mmvm0001":1840000,"UHN3sne1mmvm0001":1025000,"UHN3sne2mmvm0001":940000},
    {"t":"2024-01-11T11:05","UHN3tte2mmvm0001":1950000,"UHN3sne1mmvm0001":1070000,"UHN3sne2mmvm0001":975000},
    {"t":"2024-01-11T11:20","UHN3tte2mmvm0001":1860000,"UHN3sne1mmvm0001":1035000,"UHN3sne2mmvm0001":950000},
    {"t":"2024-01-11T11:35","UHN3tte2mmvm0001":1890000,"UHN3sne1mmvm0001":1040000,"UHN3sne2mmvm0001":955000},
    {"t":"2024-01-11T11:50","UHN3tte2mmvm0001":1870000,"UHN3sne1mmvm0001":1035000,"UHN3sne2mmvm0001":945000},
    {"t":"2024-01-11T12:05","UHN3tte2mmvm0001":2230000,"UHN3sne1mmvm0001":1240000,"UHN3sne2mmvm0001":1150000},
    {"t":"2024-01-11T12:20","UHN3tte2mmvm0001":1990000,"UHN3sne1mmvm0001":1060000,"UHN3sne2mmvm0001":970000},
    {"t":"2024-01-11T12:35","UHN3tte2mmvm0001":1930000,"UHN3sne1mmvm0001":1050000,"UHN3sne2mmvm0001":975000},
    {"t":"2024-01-11T12:55","UHN3tte2mmvm0001":1960000,"UHN3sne1mmvm0001":1060000,"UHN3sne2mmvm0001":985000},
    {"t":"2024-01-11T13:15","UHN3tte2mmvm0001":2090000,"UHN3sne1mmvm0001":1130000,"UHN3sne2mmvm0001":1040000},
    {"t":"2024-01-11T13:30","UHN3tte2mmvm0001":1950000,"UHN3sne1mmvm0001":1030000,"UHN3sne2mmvm0001":960000},
    {"t":"2024-01-11T13:45","UHN3tte2mmvm0001":1820000,"UHN3sne1mmvm0001":1005000,"UHN3sne2mmvm0001":910000},
    {"t":"2024-01-11T14:00","UHN3tte2mmvm0001":1860000,"UHN3sne1mmvm0001":1000000,"UHN3sne2mmvm0001":905000},
    {"t":"2024-01-11T14:15","UHN3tte2mmvm0001":1830000,"UHN3sne1mmvm0001":998000,"UHN3sne2mmvm0001":900000},
    {"t":"2024-01-11T14:30","UHN3tte2mmvm0001":1850000,"UHN3sne1mmvm0001":998000,"UHN3sne2mmvm0001":898000},
    {"t":"2024-01-11T14:45","UHN3tte2mmvm0001":1820000,"UHN3sne1mmvm0001":996000,"UHN3sne2mmvm0001":897000},
    {"t":"2024-01-11T15:00","UHN3tte2mmvm0001":1820000,"UHN3sne1mmvm0001":997000,"UHN3sne2mmvm0001":897000,"UHN3tte1mmvm0001":3000}
  ]},
  "transform": [
    {"fold": ["UHN3tte2mmvm0001", "UHN3sne1mmvm0001", "UHN3sne2mmvm0001", "UHN3tte1mmvm0001"], "as": ["key", "v"]},
    {"filter": "isValid(datum.v)"}
  ],
  "mark": {"type": "line", "strokeWidth": 1.3},
  "encoding": {
    "x": {
      "field": "t",
      "type": "temporal",
      "axis": {
        "title": null,
        "format": "%H:%M",
        "gridColor": "#e6e6e6",
        "ticks": false,
        "domainColor": "#ccd6eb",
        "labelColor": "#666666",
        "labelFontSize": 13,
        "labelPadding": 10
      }
    },
    "y": {
      "field": "v",
      "type": "quantitative",
      "scale": {"domain": [0, 3000000]},
      "axis": {
        "title": "Number",
        "format": "d",
        "titleFontSize": 12,
        "titleFontWeight": "normal",
        "titleColor": "#666666",
        "titlePadding": 13,
        "gridColor": "#e6e6e6",
        "ticks": false,
        "domain": false,
        "labelColor": "#666666",
        "labelFontSize": 14,
        "labelPadding": 20
      }
    },
    "color": {
      "field": "key",
      "type": "nominal",
      "scale": {"domain": ["UHN3tte2mmvm0001", "UHN3sne1mmvm0001", "UHN3sne2mmvm0001", "UHN3tte1mmvm0001"], "range": ["#434348", "#90ed7d", "#f7a35c", "#8085e9"]},
      "legend": {
        "title": null,
        "orient": "bottom",
        "offset": 38,
        "direction": "horizontal",
        "symbolType": "stroke",
        "symbolStrokeWidth": 2,
        "labelFontSize": 13,
        "labelFontWeight": "bold",
        "labelColor": "#333333",
        "columnPadding": 40,
        "labelLimit": 300
      }
    }
  }
}
